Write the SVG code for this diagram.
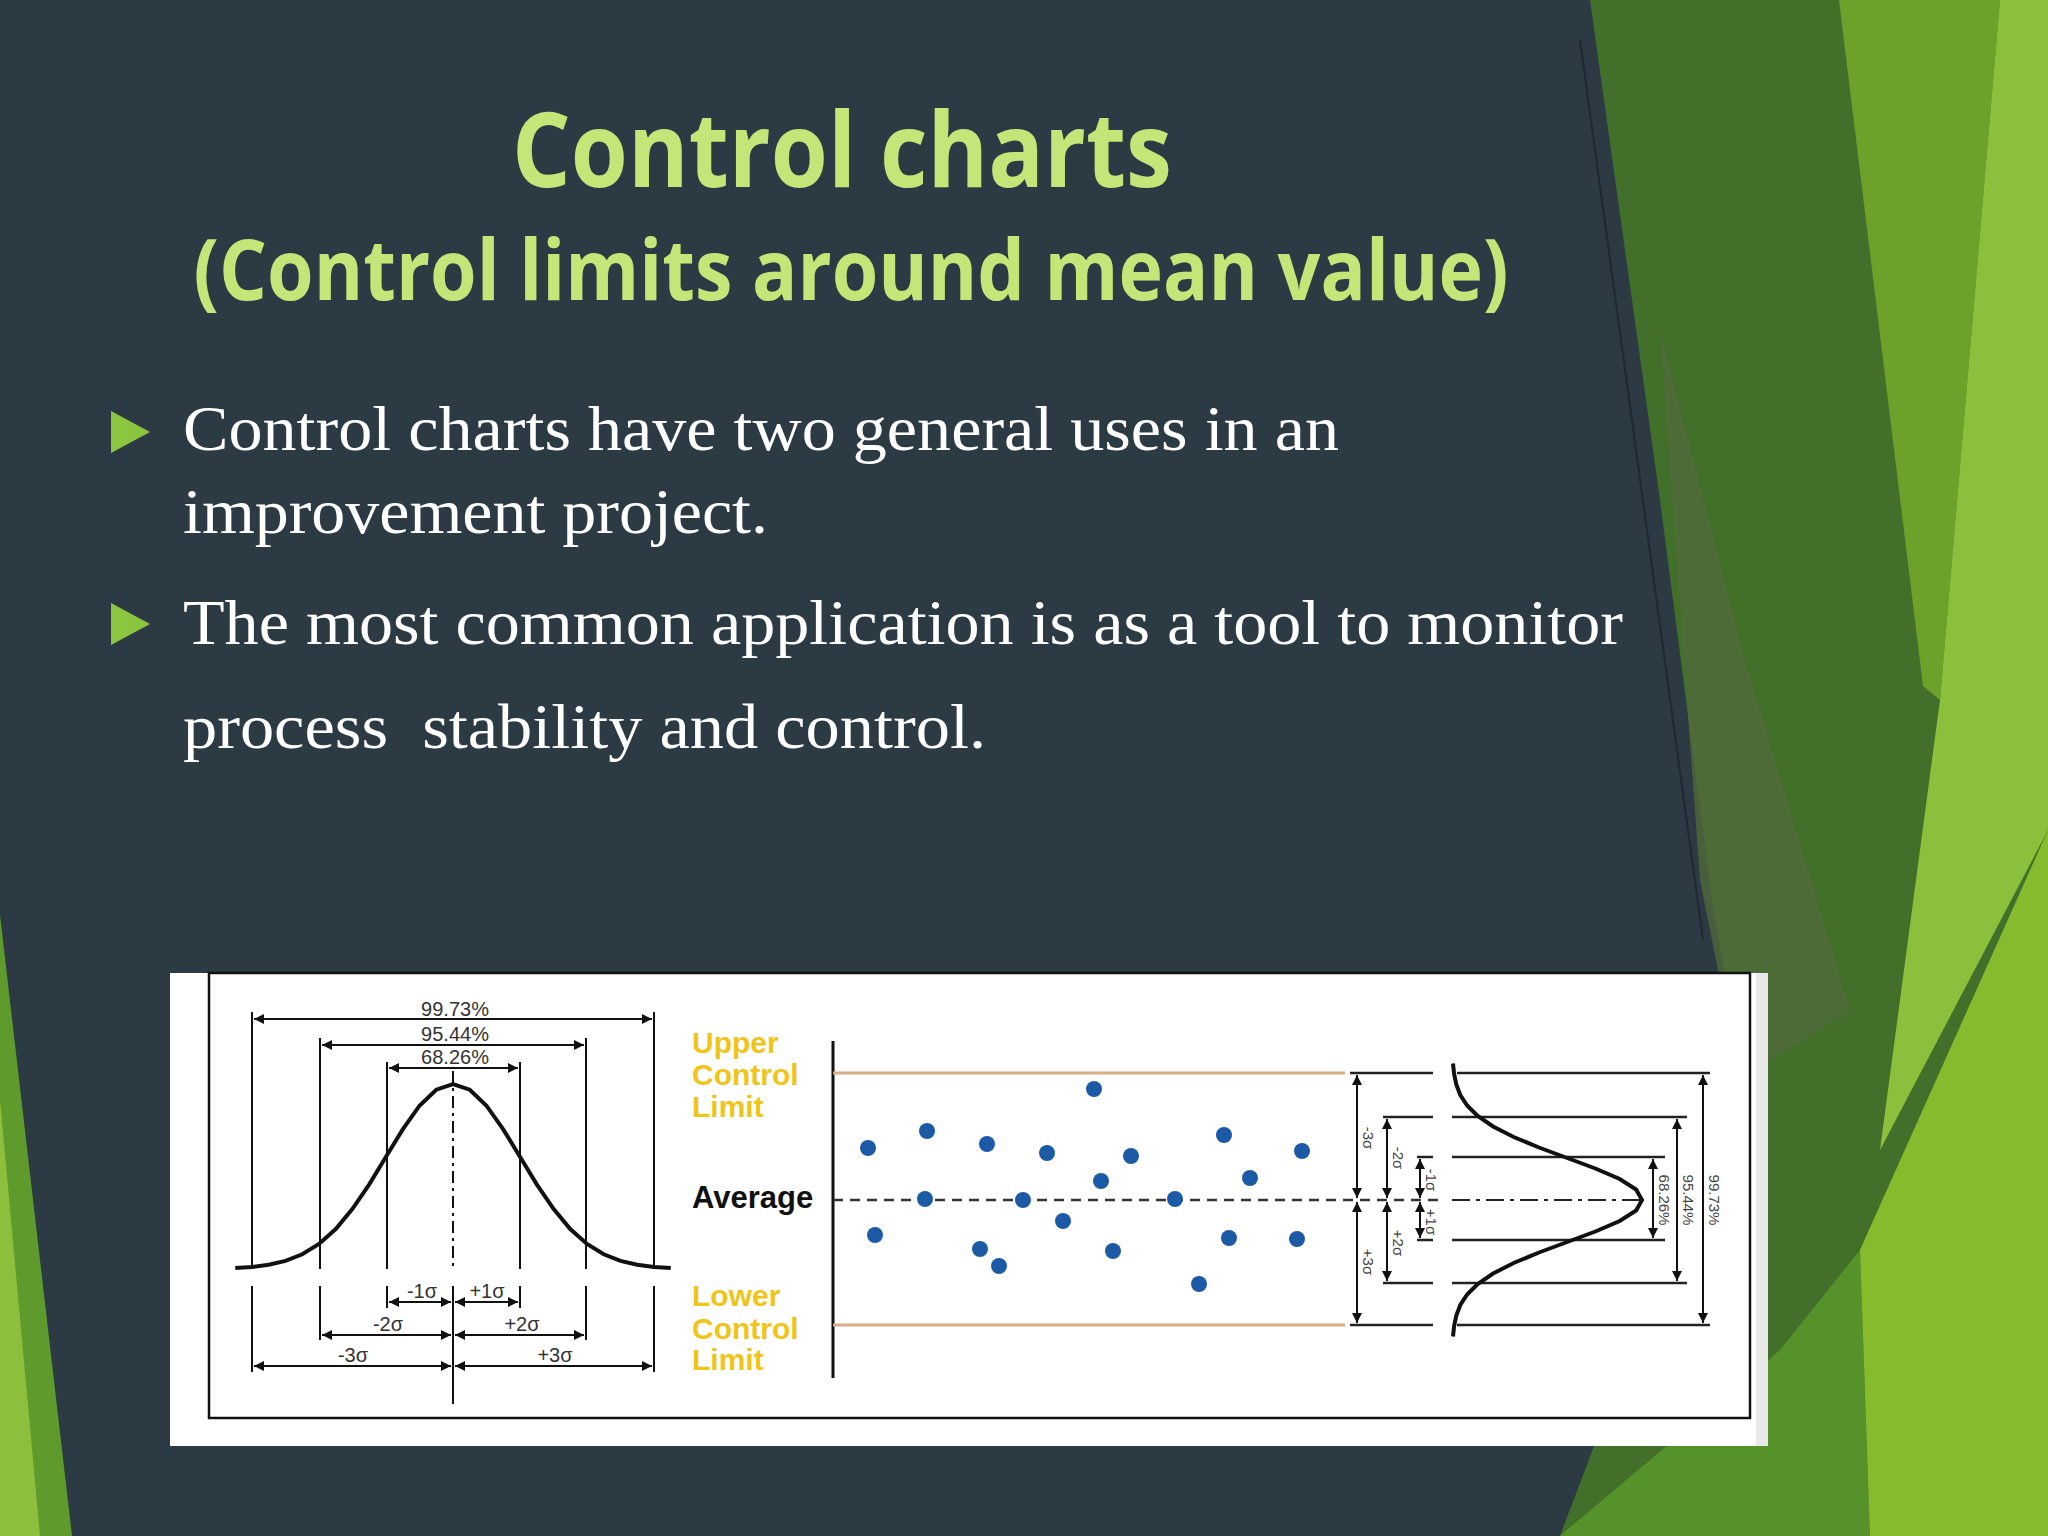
<svg xmlns="http://www.w3.org/2000/svg" width="2048" height="1536" viewBox="0 0 2048 1536">
<defs>
<marker id="ar" viewBox="0 0 10 10" refX="10" refY="5" markerWidth="5" markerHeight="5" orient="auto-start-reverse"><path d="M0,0L10,5L0,10z" fill="#111"/></marker>
<style>
.t{font-family:"Open Sans","DejaVu Sans",sans-serif;font-weight:bold;fill:#c4e679}
.b{font-family:"Liberation Serif","Times New Roman",serif;fill:#fff;font-size:63px}
.s{font-family:"Liberation Sans",Arial,sans-serif;font-size:20px;fill:#333}
.r{font-family:"Liberation Sans",Arial,sans-serif;font-size:15px;fill:#444}
.y{font-family:"Liberation Sans",Arial,sans-serif;font-size:30px;fill:#f0c419;font-weight:bold}
.k{stroke:#111;stroke-width:4;fill:none}
.d{stroke:#111;stroke-width:2;fill:none;marker-start:url(#ar);marker-end:url(#ar)}
.dot{fill:#1c5aa6}
</style>
</defs>
<rect width="2048" height="1536" fill="#2c3a43"/>
<g id="background">
<polygon points="1590,0 2048,0 2048,1536 1560,1536 1740,1060 1712,900 1660,500" fill="#42702a"/>
<polygon points="1660,330 1741,647 1850,1010 1740,1080 1700,880" fill="#4f6a3a" opacity="0.8"/>
<polygon points="1839,0 2000,0 1940,700 1923,686" fill="#6ea12a"/>
<polygon points="2000,0 2048,0 2048,830 1880,1150 1940,700" fill="#8cc03c"/>
<polygon points="1560,1536 1780,1350 1860,1250 1870,1536" fill="#55922a"/>
<polygon points="1870,1536 1860,1250 2048,830 2048,1536" fill="#86bb2e"/>
<line x1="1580" y1="40" x2="1703" y2="940" stroke="#1e2a30" stroke-width="2"/>
<polygon points="0,915 0,1536 72,1536" fill="#5f9a2c"/>
<polygon points="0,1100 0,1536 40,1536" fill="#8cc03c"/>
</g>
<g id="title">
<text class="t" x="842" y="187" font-size="104" text-anchor="middle" textLength="660" lengthAdjust="spacingAndGlyphs">Control charts</text>
<text class="t" x="851" y="300" font-size="84" text-anchor="middle" textLength="1315" lengthAdjust="spacingAndGlyphs">(Control limits around mean value)</text>
</g>
<g id="bullets">
<polygon points="111,411 150,432 111,453" fill="#8cc63f"/>
<polygon points="111,603 150,624 111,645" fill="#8cc63f"/>
<text class="b" x="183" y="450" textLength="1156" lengthAdjust="spacingAndGlyphs">Control charts have two general uses in an</text>
<text class="b" x="183" y="533" textLength="585" lengthAdjust="spacingAndGlyphs">improvement project.</text>
<text class="b" x="183" y="644" textLength="1440" lengthAdjust="spacingAndGlyphs">The most common application is as a tool to monitor</text>
<text class="b" x="183" y="748" xml:space="preserve" textLength="803" lengthAdjust="spacingAndGlyphs">process  stability and control.</text>
</g>
<g id="chart">
<rect x="170" y="973" width="1598" height="473" fill="#fff"/>
<rect x="1756" y="973" width="12" height="473" fill="#e8e8e8"/>
<rect x="209" y="973" width="1541" height="445" fill="none" stroke="#111" stroke-width="2.5"/>
<polyline class="k" points="235.25,1268.1 252,1266.9 268.75,1264.8 285.5,1260.9 302.25,1254.3 319,1244 335.75,1229 352.5,1208.9 369.25,1184.3 386,1156.8 402.75,1129.4 419.5,1105.7 436.25,1089.7 453,1084 469.75,1089.7 486.5,1105.7 503.25,1129.4 520,1156.8 536.75,1184.3 553.5,1208.9 570.25,1229 587,1244 603.75,1254.3 620.5,1260.9 637.25,1264.8 654,1266.9 670.75,1268.1"/>
<g stroke="#111" stroke-width="2">
<line x1="252" y1="1012" x2="252" y2="1269"/><line x1="654" y1="1012" x2="654" y2="1269"/>
<line x1="320" y1="1038" x2="320" y2="1269"/><line x1="586" y1="1038" x2="586" y2="1269"/>
<line x1="387" y1="1062" x2="387" y2="1269"/><line x1="520" y1="1062" x2="520" y2="1269"/>
<line x1="252" y1="1286" x2="252" y2="1372"/><line x1="654" y1="1286" x2="654" y2="1372"/>
<line x1="320" y1="1286" x2="320" y2="1340"/><line x1="586" y1="1286" x2="586" y2="1340"/>
<line x1="387" y1="1286" x2="387" y2="1308"/><line x1="520" y1="1286" x2="520" y2="1308"/>
<line x1="453" y1="1071" x2="453" y2="1269" stroke-dasharray="12,5,3,5"/>
<line x1="453" y1="1286" x2="453" y2="1404"/>
</g>
<line class="d" x1="254" y1="1019" x2="652" y2="1019"/>
<line class="d" x1="322" y1="1045" x2="584" y2="1045"/>
<line class="d" x1="389" y1="1068" x2="518" y2="1068"/>
<line class="d" x1="389" y1="1302" x2="451" y2="1302"/><line class="d" x1="455" y1="1302" x2="518" y2="1302"/>
<line class="d" x1="322" y1="1335" x2="451" y2="1335"/><line class="d" x1="455" y1="1335" x2="584" y2="1335"/>
<line class="d" x1="254" y1="1366" x2="451" y2="1366"/><line class="d" x1="455" y1="1366" x2="652" y2="1366"/>
<text class="s" x="455" y="1016" text-anchor="middle">99.73%</text>
<text class="s" x="455" y="1041" text-anchor="middle">95.44%</text>
<text class="s" x="455" y="1064" text-anchor="middle">68.26%</text>
<text class="s" x="422" y="1298" text-anchor="middle">-1σ</text>
<text class="s" x="487" y="1298" text-anchor="middle">+1σ</text>
<text class="s" x="388" y="1331" text-anchor="middle">-2σ</text>
<text class="s" x="522" y="1331" text-anchor="middle">+2σ</text>
<text class="s" x="353" y="1362" text-anchor="middle">-3σ</text>
<text class="s" x="555" y="1362" text-anchor="middle">+3σ</text>
<text class="y" x="692" y="1053">Upper</text>
<text class="y" x="692" y="1085">Control</text>
<text class="y" x="692" y="1117">Limit</text>
<text x="692" y="1208" font-family="Liberation Sans,Arial,sans-serif" font-size="31" font-weight="bold" fill="#111">Average</text>
<text class="y" x="692" y="1306">Lower</text>
<text class="y" x="692" y="1339">Control</text>
<text class="y" x="692" y="1370">Limit</text>
<line x1="833" y1="1041" x2="833" y2="1378" stroke="#111" stroke-width="3"/>
<line x1="833" y1="1073" x2="1345" y2="1073" stroke="#d9ad84" stroke-width="3"/>
<line x1="833" y1="1325" x2="1345" y2="1325" stroke="#d9ad84" stroke-width="3"/>
<line x1="833" y1="1200" x2="1440" y2="1200" stroke="#333" stroke-width="2.5" stroke-dasharray="10,7"/>
<circle class="dot" cx="868" cy="1148" r="8"/><circle class="dot" cx="927" cy="1131" r="8"/><circle class="dot" cx="987" cy="1144" r="8"/><circle class="dot" cx="1047" cy="1153" r="8"/><circle class="dot" cx="1094" cy="1089" r="8"/><circle class="dot" cx="1131" cy="1156" r="8"/><circle class="dot" cx="1101" cy="1181" r="8"/><circle class="dot" cx="1224" cy="1135" r="8"/><circle class="dot" cx="1250" cy="1178" r="8"/><circle class="dot" cx="1302" cy="1151" r="8"/><circle class="dot" cx="925" cy="1199" r="8"/><circle class="dot" cx="1023" cy="1200" r="8"/><circle class="dot" cx="1175" cy="1199" r="8"/><circle class="dot" cx="875" cy="1235" r="8"/><circle class="dot" cx="980" cy="1249" r="8"/><circle class="dot" cx="999" cy="1266" r="8"/><circle class="dot" cx="1063" cy="1221" r="8"/><circle class="dot" cx="1113" cy="1251" r="8"/><circle class="dot" cx="1229" cy="1238" r="8"/><circle class="dot" cx="1297" cy="1239" r="8"/><circle class="dot" cx="1199" cy="1284" r="8"/>
<g stroke="#222" stroke-width="2.5">
<line x1="1350" y1="1073" x2="1433" y2="1073"/><line x1="1457" y1="1073" x2="1710" y2="1073"/>
<line x1="1350" y1="1325" x2="1433" y2="1325"/><line x1="1457" y1="1325" x2="1710" y2="1325"/>
<line x1="1383" y1="1117" x2="1433" y2="1117"/><line x1="1452" y1="1117" x2="1687" y2="1117"/>
<line x1="1383" y1="1283" x2="1433" y2="1283"/><line x1="1452" y1="1283" x2="1687" y2="1283"/>
<line x1="1417" y1="1157" x2="1433" y2="1157"/><line x1="1452" y1="1157" x2="1665" y2="1157"/>
<line x1="1417" y1="1240" x2="1433" y2="1240"/><line x1="1452" y1="1240" x2="1665" y2="1240"/>
<line x1="1452" y1="1200" x2="1640" y2="1200" stroke-dasharray="18,6,4,6" stroke-width="2"/>
</g>
<line class="d" x1="1357" y1="1075" x2="1357" y2="1198"/><line class="d" x1="1357" y1="1202" x2="1357" y2="1323"/>
<line class="d" x1="1387" y1="1119" x2="1387" y2="1198"/><line class="d" x1="1387" y1="1202" x2="1387" y2="1281"/>
<line class="d" x1="1420" y1="1159" x2="1420" y2="1198"/><line class="d" x1="1420" y1="1202" x2="1420" y2="1238"/>
<line class="d" x1="1653" y1="1159" x2="1653" y2="1238"/>
<line class="d" x1="1677" y1="1119" x2="1677" y2="1281"/>
<line class="d" x1="1703" y1="1075" x2="1703" y2="1323"/>
<text class="r" transform="translate(1363,1138) rotate(90)" text-anchor="middle">-3σ</text>
<text class="r" transform="translate(1363,1262) rotate(90)" text-anchor="middle">+3σ</text>
<text class="r" transform="translate(1393,1158) rotate(90)" text-anchor="middle">-2σ</text>
<text class="r" transform="translate(1393,1243) rotate(90)" text-anchor="middle">+2σ</text>
<text class="r" transform="translate(1426,1180) rotate(90)" text-anchor="middle">-1σ</text>
<text class="r" transform="translate(1426,1222) rotate(90)" text-anchor="middle">+1σ</text>
<text class="r" transform="translate(1659,1200) rotate(90)" text-anchor="middle">68.26%</text>
<text class="r" transform="translate(1683,1200) rotate(90)" text-anchor="middle">95.44%</text>
<text class="r" transform="translate(1709,1200) rotate(90)" text-anchor="middle">99.73%</text>
<polyline class="k" points="1453,1063.5 1454.1,1074 1456.3,1084.5 1460.3,1095 1467.1,1105.5 1477.7,1116 1493.1,1126.5 1513.7,1137 1539,1147.5 1567.2,1158 1595.4,1168.5 1619.7,1179 1636.1,1189.5 1642,1200 1636.1,1210.5 1619.7,1221 1595.4,1231.5 1567.2,1242 1539,1252.5 1513.7,1263 1493.1,1273.5 1477.7,1284 1467.1,1294.5 1460.3,1305 1456.3,1315.5 1454.1,1326 1453,1336.5"/>
</g>
</svg>
